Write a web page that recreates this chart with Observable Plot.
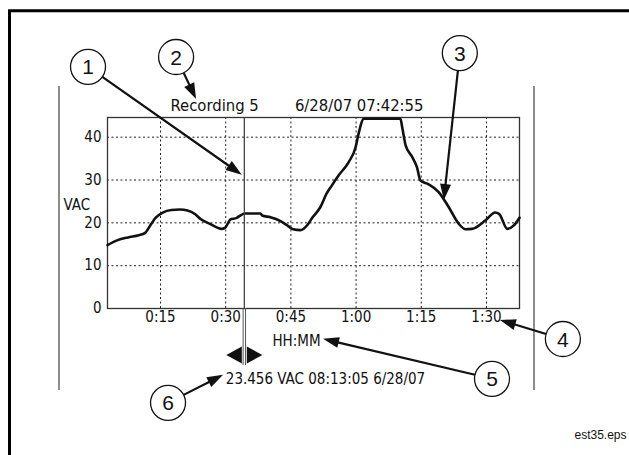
<!DOCTYPE html>
<html>
<head>
<meta charset="utf-8">
<script src="https://cdn.jsdelivr.net/npm/d3@7"></script>
<script src="https://cdn.jsdelivr.net/npm/@observablehq/plot@0.6"></script>
<style>
  html, body { margin: 0; padding: 0; background: #fff; }
  #chart svg { display: block; }
</style>
</head>
<body>
<div id="chart"></div>
<script>
// ---- data (elapsed minutes -> VAC) ----
const minutes = [2.8, 5.0, 7.5, 10.0, 11.4, 12.7, 13.9, 15.5, 17.5, 19.5, 21.2, 23.0, 24.2, 26.5, 29.0, 29.9, 31.1, 32.4, 34.4, 38.0, 38.4, 40.3, 42.6, 44.3, 45.5, 47.2, 48.8, 50.0, 51.8, 53.2, 54.4, 56.0, 58.3, 59.9, 60.5, 61.8, 70.2, 70.6, 71.4, 72.9, 74.0, 74.8, 76.7, 79.0, 81.3, 83.6, 85.2, 86.7, 89.8, 92.0, 92.9, 94.8, 96.3, 97.6];
const vac = [14.8, 15.9, 16.6, 17.1, 17.6, 19.5, 21.2, 22.4, 23.0, 23.1, 22.9, 22.0, 20.9, 19.7, 18.6, 18.9, 20.8, 21.1, 22.2, 22.2, 21.7, 21.3, 20.4, 19.3, 18.5, 18.3, 19.5, 21.3, 23.7, 26.8, 28.7, 31.1, 34.2, 37.7, 40.5, 44.3, 44.3, 42.4, 38.1, 35.4, 33.0, 29.9, 29.0, 27.2, 23.7, 19.8, 18.5, 18.6, 20.6, 22.4, 22.1, 18.6, 19.4, 21.2];
const xTicks = [15, 30, 45, 60, 75, 90];
const xTickLabels = ["0:15", "0:30", "0:45", "1:00", "1:15", "1:30"];
const yTicks = [0, 10, 20, 30, 40];
const yLabel = "VAC";
const xLabel = "HH:MM";
const recordingLabel = "Recording 5";
const recordingStamp = "6/28/07 07:42:55";
const cursorMinute = 34.4;
const cursorReadout = "23.456 VAC 08:13:05 6/28/07";
const fileTag = "est35.eps";
// callout numbers and the (minute, VAC) point each arrow points at
const calloutLabels = ["1", "2", "3", "4", "5", "6"];
const calloutTipMinute = [33.8, 23.3, 80.3, 93.2, 52.5, 29.5];
const calloutTipVac = [31.1, 48.8, 25.2, -2.8, -7.2, -15.6];

// ---- layout (pixel offsets of the circles from their arrow tips) ----
const calloutOffsets = [[-153.7, -108], [-20, -42], [16, -147], [63, 19], [169, 40], [-55, 28]];

const series = minutes.map((m, i) => ({m, v: vac[i]}));
const callouts = calloutLabels.map((label, i) => ({label, m: calloutTipMinute[i], v: calloutTipVac[i], off: calloutOffsets[i]}));

const font = "'DejaVu Sans Condensed', 'DejaVu Sans', sans-serif";

function decorations(index, scales, values, dimensions) {
  const X = scales.x, Y = scales.y;
  const {width, height, marginLeft, marginRight, marginTop, marginBottom} = dimensions;
  const fl = marginLeft, fr = width - marginRight, ft = marginTop, fb = height - marginBottom;
  const g = d3.create("svg:g");
  // outer page border
  g.append("path").attr("d", `M${width + 5},10.8H9.5V${height + 5}`)
    .attr("fill", "none").attr("stroke", "#000").attr("stroke-width", 3);
  // meter screen edges
  for (const x of [fl - 48, fr + 15]) {
    g.append("line").attr("x1", x).attr("x2", x).attr("y1", ft - 31).attr("y2", fb + 82)
      .attr("stroke", "#666").attr("stroke-width", 1.5);
  }
  // cursor
  const cx = X(cursorMinute);
  g.append("line").attr("x1", cx).attr("x2", cx).attr("y1", ft).attr("y2", fb)
    .attr("stroke", "#444").attr("stroke-width", 1.3);
  for (const d of [-1.2, 1.2]) {
    g.append("line").attr("x1", cx + d).attr("x2", cx + d).attr("y1", fb).attr("y2", fb + 57)
      .attr("stroke", "#555").attr("stroke-width", 1);
  }
  const cy = fb + 47;
  g.append("path").attr("d", `M${cx - 18},${cy}L${cx - 2.5},${cy - 8.5}L${cx - 2.5},${cy + 8.5}Z`).attr("fill", "#111");
  g.append("path").attr("d", `M${cx + 18},${cy}L${cx + 2.5},${cy - 8.5}L${cx + 2.5},${cy + 8.5}Z`).attr("fill", "#111");
  // callouts
  const R = 17.5, HL = 16, HW = 5.5;
  for (const c of callouts) {
    const tx = X(c.m), ty = Y(c.v);
    const ox = tx + c.off[0], oy = ty + c.off[1];
    const dx = tx - ox, dy = ty - oy, L = Math.hypot(dx, dy);
    const ux = dx / L, uy = dy / L;
    const sx = ox + ux * R, sy = oy + uy * R;
    const bx = tx - ux * HL, by = ty - uy * HL;
    g.append("line").attr("x1", sx).attr("y1", sy).attr("x2", bx + ux * 2).attr("y2", by + uy * 2)
      .attr("stroke", "#111").attr("stroke-width", 2.2);
    g.append("path").attr("d", `M${tx},${ty}L${bx - uy * HW},${by + ux * HW}L${bx + uy * HW},${by - ux * HW}Z`)
      .attr("fill", "#111");
    g.append("circle").attr("cx", ox).attr("cy", oy).attr("r", R)
      .attr("fill", "#fff").attr("stroke", "#111").attr("stroke-width", 1.3);
    g.append("text").attr("x", ox).attr("y", oy).attr("dy", "0.36em").attr("text-anchor", "middle")
      .attr("font-family", "'Liberation Sans', Arial, sans-serif").attr("font-size", 21).attr("fill", "#111")
      .text(c.label);
  }
  return g.node();
}

const chart = Plot.plot({
  width: 629,
  height: 455,
  marginLeft: 107,
  marginRight: 110,
  marginTop: 117,
  marginBottom: 147,
  style: {fontFamily: font, fontSize: "15px", color: "#111", background: "#fff", overflow: "visible"},
  x: {domain: [2.8, 97.6]},
  y: {domain: [0, 44.6]},
  marks: [
    Plot.gridX(xTicks, {stroke: "#222", strokeOpacity: 1, strokeWidth: 1, strokeDasharray: "2,2.5"}),
    Plot.gridY(yTicks.filter(d => d > 0), {stroke: "#222", strokeOpacity: 1, strokeWidth: 1, strokeDasharray: "2,2.5"}),
    Plot.frame({stroke: "#333", strokeWidth: 1.3}),
    Plot.axisX(xTicks, {tickSize: 0, tickPadding: 3, label: null, fontSize: 15, tickFormat: d => xTickLabels[xTicks.indexOf(d)]}),
    Plot.axisY(yTicks, {tickSize: 0, tickPadding: 6, label: null, fontSize: 15}),
    Plot.line(series, {x: "m", y: "v", curve: "monotone-x", stroke: "#111", strokeWidth: 2.6, strokeLinejoin: "round"}),
    Plot.text([yLabel], {text: d => d, frameAnchor: "left", dx: -30.7, dy: -3.5, textAnchor: "middle", lineAnchor: "bottom", fontSize: 15}),
    Plot.text([xLabel], {text: d => d, frameAnchor: "bottom", dx: -17, dy: 37, textAnchor: "middle", lineAnchor: "bottom", fontSize: 15}),
    Plot.text([recordingLabel], {text: d => d, frameAnchor: "top-left", dx: 63, dy: -7, textAnchor: "start", lineAnchor: "bottom", fontSize: 16.5}),
    Plot.text([recordingStamp], {text: d => d, frameAnchor: "top-right", dx: -96, dy: -7, textAnchor: "end", lineAnchor: "bottom", fontSize: 16.5}),
    Plot.text([cursorReadout], {text: d => d, x: [cursorMinute], frameAnchor: "bottom", dx: -19, dy: 75.3, textAnchor: "start", lineAnchor: "bottom", fontSize: 15}),
    Plot.text([fileTag], {text: d => d, frameAnchor: "bottom-right", dx: 55, dy: 130, textAnchor: "start", lineAnchor: "bottom", fontSize: 12, fontFamily: "'Liberation Sans', Arial, sans-serif"}),
    decorations
  ]
});
document.getElementById("chart").appendChild(chart);
</script>
</body>
</html>
